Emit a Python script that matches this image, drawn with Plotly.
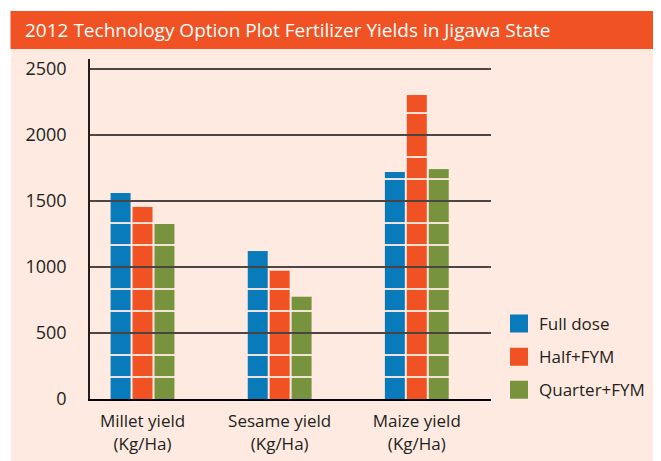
import plotly.graph_objects as go

categories = ["Millet yield<br>(Kg/Ha)", "Sesame yield<br>(Kg/Ha)", "Maize yield<br>(Kg/Ha)"]
series_names = ["Full dose", "Half+FYM", "Quarter+FYM"]
full_dose = [1561, 1121, 1720]
half_fym = [1455, 972, 2303]
quarter_fym = [1326, 775, 1742]
series_values = [full_dose, half_fym, quarter_fym]
colors = ["#0A7BBA", "#F05223", "#78933D"]
y_ticks = [0, 500, 1000, 1500, 2000, 2500]

STEP = 500 / 3      # stripe spacing in data units
GAP = 14            # white gap between stripes (data units)
FONT = "Open Sans"
INK = "#231F20"

fig = go.Figure()

for name, vals, col in zip(series_names, series_values, colors):
    nlev = int(max(vals) // STEP) + 1
    for k in range(nlev):
        bases, heights = [], []
        for v in vals:
            lo = k * STEP + (GAP / 2 if k > 0 else 0)
            hi = min((k + 1) * STEP - GAP / 2, v)
            if hi > lo:
                bases.append(lo)
                heights.append(hi - lo)
            else:
                bases.append(0)
                heights.append(0)
        fig.add_trace(go.Bar(
            x=categories, y=heights, base=bases, offsetgroup=name,
            marker=dict(color=col, line=dict(width=0)),
            showlegend=False, hoverinfo="skip", name=name,
        ))

# legend entries
for name, col in zip(series_names, colors):
    fig.add_trace(go.Scatter(
        x=[None], y=[None], mode="markers", name=name, legendgroup=name,
        marker=dict(symbol="square", size=16, color=col, line=dict(color=col, width=2)),
    ))

OFF = 8  # page body margin
W, H = 661 - OFF, 461 - OFF
ml, mr, mt, mb = 90 - OFF, 170, 59 - OFF, 62
pw, ph = W - ml - mr, H - mt - mb

def px_x(p):
    return (p - OFF - ml) / pw

def px_y(p):
    return (H - mb - (p - OFF)) / ph

shapes = [
    dict(type="rect", xref="paper", yref="paper", x0=px_x(11), x1=px_x(670),
         y0=px_y(470), y1=px_y(49), fillcolor="#FEEAE0", line=dict(width=0), layer="below"),
    dict(type="rect", xref="paper", yref="paper", x0=px_x(10.5), x1=px_x(670),
         y0=px_y(49), y1=px_y(11), fillcolor="#F05223", line=dict(width=0), layer="below"),
]
for v in y_ticks[1:]:
    shapes.append(dict(type="line", xref="paper", yref="y", x0=0, x1=1, y0=v, y1=v,
                       line=dict(color="#111111", width=1.4), layer="above"))

fig.update_layout(
    width=W, height=H,
    margin=dict(l=ml, r=mr, t=mt, b=mb, pad=0, autoexpand=False),
    paper_bgcolor="white", plot_bgcolor="rgba(0,0,0,0)",
    barmode="group", bargap=0.52, bargroupgap=0.09,
    font=dict(family=FONT, color=INK, size=17),
    title=dict(text="2012 Technology Option Plot Fertilizer Yields in Jigawa State",
               x=(25 - OFF) / W, xanchor="left", xref="container",
               y=1 - (30 - OFF) / H, yanchor="middle", yref="container",
               font=dict(family=FONT, color="white", size=19)),
    shapes=shapes,
    showlegend=True,
    legend=dict(x=px_x(499), xanchor="left", y=px_y(306), yanchor="top",
                bgcolor="rgba(0,0,0,0)", font=dict(size=17, family=FONT, color=INK),
                tracegroupgap=8, itemclick=False),
    xaxis=dict(range=[-0.383, 2.541], showline=True, linecolor="black", linewidth=2,
               ticks="", showgrid=False, zeroline=False, fixedrange=True, automargin=False,
               tickfont=dict(size=17, family=FONT, color=INK), ticklabelstandoff=6),
    yaxis=dict(range=[0, 2576], tickvals=y_ticks, showline=True, linecolor=INK,
               linewidth=1.5, ticks="", showgrid=False, zeroline=False, automargin=False,
               tickfont=dict(size=18, family=FONT, color=INK), ticklabelstandoff=18),
)

fig.write_html("out.html")
